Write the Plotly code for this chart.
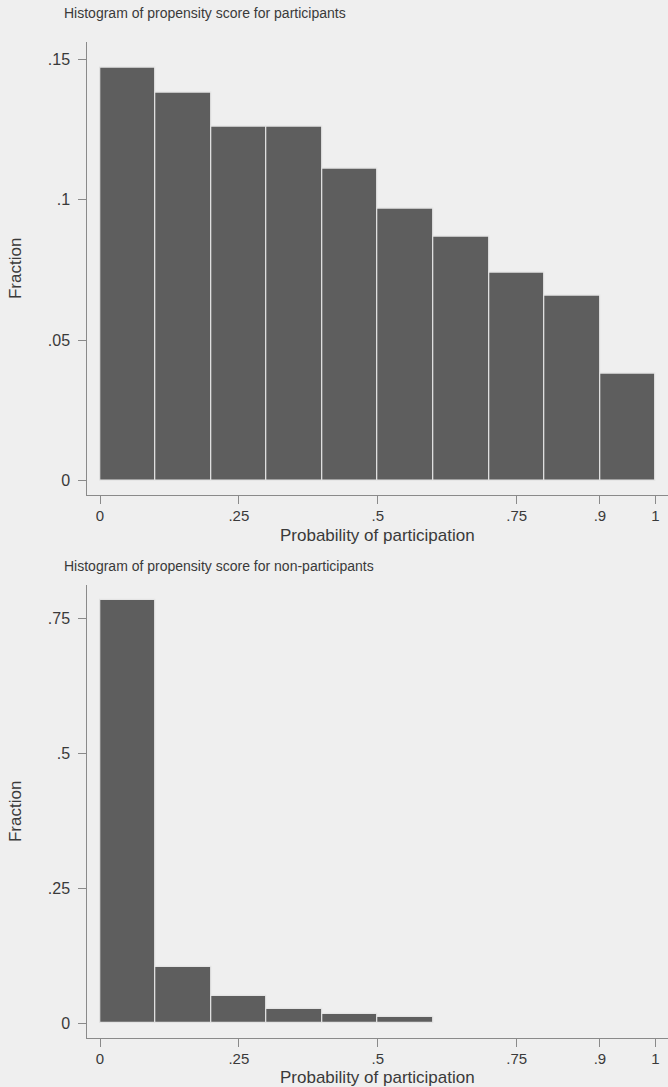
import plotly.graph_objects as go

# Data (fraction per bin of width 0.1)
bin_left = [0.0, 0.1, 0.2, 0.3, 0.4, 0.5, 0.6, 0.7, 0.8, 0.9]
frac_participants = [0.147, 0.138, 0.126, 0.126, 0.111, 0.097, 0.087, 0.074, 0.066, 0.038]
bin_left_non = [0.0, 0.1, 0.2, 0.3, 0.4, 0.5]
frac_nonparticipants = [0.784, 0.105, 0.051, 0.027, 0.017, 0.011]

x_tickvals = [0, 0.25, 0.5, 0.75, 0.9, 1]
x_ticktext = ["0", ".25", ".5", ".75", ".9", "1"]
y1_tickvals = [0, 0.05, 0.1, 0.15]
y1_ticktext = ["0", ".05", ".1", ".15"]
y2_tickvals = [0, 0.25, 0.5, 0.75]
y2_ticktext = ["0", ".25", ".5", ".75"]

title_top = "Histogram of propensity score for participants"
title_bottom = "Histogram of propensity score for non-participants"
x_title = "Probability of participation"
y_title = "Fraction"

BG = "#efefef"
BAR = "#5e5e5e"
EDGE = "#e4e4e4"
AX = "#8a8a8a"
TXT = "#3a3a3a"
FONT = "Liberation Sans, Arial, sans-serif"

W, H = 668, 1087

fig = go.Figure()
fig.add_trace(go.Bar(x=bin_left, y=frac_participants, width=0.1, offset=0,
                     marker=dict(color=BAR, line=dict(color=EDGE, width=1.2)),
                     xaxis="x", yaxis="y", showlegend=False))
fig.add_trace(go.Bar(x=bin_left_non, y=frac_nonparticipants, width=0.1, offset=0,
                     marker=dict(color=BAR, line=dict(color=EDGE, width=1.2)),
                     xaxis="x2", yaxis="y2", showlegend=False))

xdom = [87.3 / W, 1.0]
xr = [-0.02286, 1.0225]

def xaxis_common(anchor):
    return dict(domain=xdom, range=xr, anchor=anchor, tickvals=x_tickvals, ticktext=x_ticktext,
                ticks="outside", ticklen=8, tickcolor=AX, tickwidth=1,
                showline=True, linecolor=AX, linewidth=1, showgrid=False, zeroline=False,
                tickfont=dict(size=15, color=TXT, family=FONT), ticklabelstandoff=-1)

def yaxis_common(anchor, dom, rng, tv, tt):
    return dict(domain=dom, range=rng, anchor=anchor, tickvals=tv, ticktext=tt,
                ticks="outside", ticklen=8, tickcolor=AX, tickwidth=1,
                showline=True, linecolor=AX, linewidth=1, showgrid=False, zeroline=False,
                tickfont=dict(size=16, color=TXT, family=FONT), ticklabelstandoff=5,
                title=dict(text=y_title, font=dict(size=17, color=TXT, family=FONT), standoff=21))

def txt(text, x, y, size, anchor="left"):
    return dict(text=text, xref="paper", yref="paper", x=x / W, y=1 - y / H,
                xanchor=anchor, yanchor="middle", showarrow=False,
                font=dict(size=size, color=TXT, family=FONT))

fig.update_layout(
    width=W, height=H,
    margin=dict(l=0, r=0, t=0, b=0),
    paper_bgcolor=BG, plot_bgcolor=BG,
    bargap=0,
    xaxis=xaxis_common("y"),
    yaxis=yaxis_common("x", [1 - 495 / H, 1 - 41.7 / H], [-0.00509, 0.1563], y1_tickvals, y1_ticktext),
    xaxis2=xaxis_common("y2"),
    yaxis2=yaxis_common("x2", [1 - 1037.7 / H, 1 - 585 / H], [-0.0267, 0.8117], y2_tickvals, y2_ticktext),
    annotations=[
        txt(title_top, 62, 13, 14),
        txt(title_bottom, 62, 566, 14),
        txt(x_title, 377.5, 535, 17, "center"),
        txt(x_title, 377.5, 1077, 17, "center"),
    ],
)

fig.write_html("out.html", config={"displayModeBar": False},
               post_script="document.body.style.margin='0';document.body.style.overflow='hidden';")
